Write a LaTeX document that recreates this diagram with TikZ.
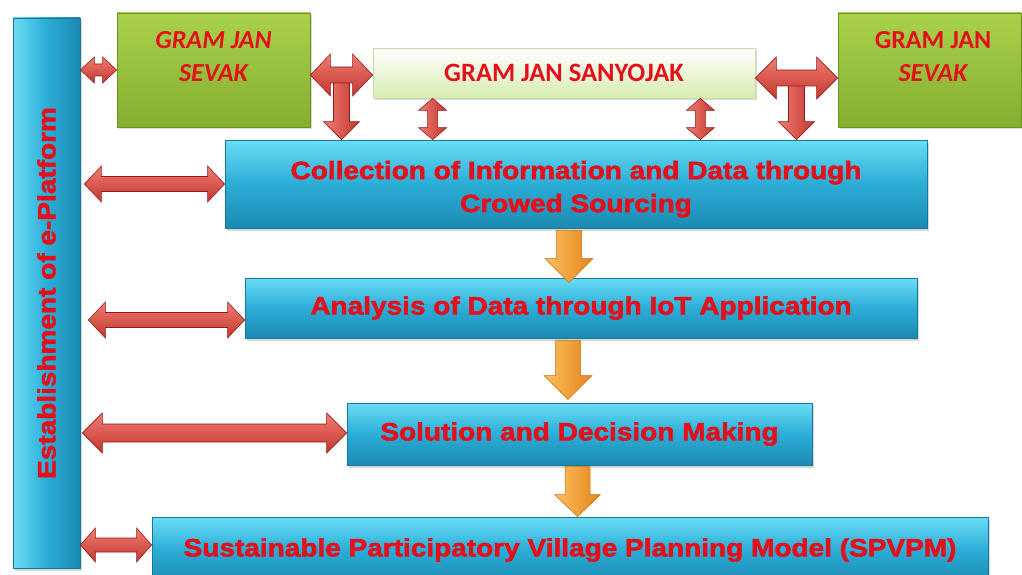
\documentclass[tikz,border=0pt]{standalone}
\usepackage{fontspec}
\setmainfont{Liberation Sans}
\newfontfamily\heavy{Liberation Sans Bold}[FakeBold=2.2,FakeStretch=1.12]
\newfontfamily\carl{Carlito}
\usetikzlibrary{calc,shadows}
\definecolor{tred}{HTML}{E3101C}
\definecolor{btop}{HTML}{6ADCF5}
\definecolor{bmid}{HTML}{2BADD6}
\definecolor{bbot}{HTML}{1C8AB3}
\definecolor{bbord}{HTML}{17789A}
\definecolor{gtop}{HTML}{A9D14B}
\definecolor{gbot}{HTML}{84AE2E}
\definecolor{gbord}{HTML}{6E9222}
\definecolor{stop}{HTML}{FFFFFF}
\definecolor{sbot}{HTML}{D7ECB2}
\definecolor{sbord}{HTML}{C9DDA6}
\definecolor{rtop}{HTML}{F07C72}
\definecolor{rbot}{HTML}{C2372E}
\definecolor{rbord}{HTML}{921C17}
\definecolor{otop}{HTML}{FBC060}
\definecolor{obot}{HTML}{E5841A}
\definecolor{obord}{HTML}{C46C10}
% horizontal double arrow: style, from, to, half shaft, half head, head length
\newcommand\hdarr[6]{\path[#1] let \p1=(#2), \p2=(#3) in
  (\x1,\y1) -- (\x1+#6,\y1+#5) -- (\x1+#6,\y1+#4) -- (\x2-#6,\y1+#4) -- (\x2-#6,\y1+#5) -- (\x2,\y1)
  -- (\x2-#6,\y1-#5) -- (\x2-#6,\y1-#4) -- (\x1+#6,\y1-#4) -- (\x1+#6,\y1-#5) -- cycle;}
% vertical double arrow: style, top, bottom, half shaft, half head, head length
\newcommand\vdarr[6]{\path[#1] let \p1=(#2), \p2=(#3) in
  (\x1,\y1) -- (\x1+#5,\y1-#6) -- (\x1+#4,\y1-#6) -- (\x1+#4,\y2+#6) -- (\x1+#5,\y2+#6) -- (\x1,\y2)
  -- (\x1-#5,\y2+#6) -- (\x1-#4,\y2+#6) -- (\x1-#4,\y1-#6) -- (\x1-#5,\y1-#6) -- cycle;}
% downward single arrow
\newcommand\downarr[6]{\path[#1] let \p1=(#2), \p2=(#3) in
  (\x1-#4,\y1) -- (\x1+#4,\y1) -- (\x1+#4,\y2+#6) -- (\x1+#5,\y2+#6) -- (\x1,\y2)
  -- (\x1-#5,\y2+#6) -- (\x1-#4,\y2+#6) -- cycle;}
\begin{document}
\begin{tikzpicture}[x=1pt,y=-1pt,
  shadowed/.style={drop shadow={opacity=0.3,shadow xshift=2pt,shadow yshift=-2.5pt}},
  bluebox/.style={rectangle,inner sep=0pt,draw=bbord,line width=0.8pt,shadowed,
    top color=btop,bottom color=bbot,middle color=bmid,text=tred,align=center,
    font=\heavy\fontsize{25}{33}\selectfont},
  barbox/.style={rectangle,inner sep=0pt,draw=bbord,line width=0.8pt,shadowed,
    left color=btop,right color=bbot,middle color=bmid,text=tred,
    font=\heavy\fontsize{25}{28}\selectfont},
  greenbox/.style={rectangle,inner sep=0pt,draw=gbord,line width=0.8pt,shadowed,
    top color=gtop,bottom color=gbot},
  sanybox/.style={rectangle,inner sep=0pt,draw=sbord,line width=0.8pt,shadowed,
    top color=stop,bottom color=sbot,text=tred,font=\carl\bfseries\fontsize{26.5}{28}\selectfont},
  gtext/.style={text=tred,align=center,font=\carl\bfseries\fontsize{26}{33}\selectfont},
  redarrow/.style={draw=rbord,line width=0.6pt,top color=rtop,bottom color=rbot},
  redvarrow/.style={draw=rbord,line width=0.6pt,left color=rtop,right color=rbot},
  orarrow/.style={draw=obord,line width=0.5pt,left color=otop,right color=obot},
]
\useasboundingbox (0,0) rectangle (1022,575);
\fill[white] (0,0) rectangle (1022,575);

% boxes
\node[barbox,minimum width=67pt,minimum height=550pt] (bar) at (46.5,293) {\rotatebox{90}{Establishment of e-Platform}};
\node[greenbox,minimum width=193pt,minimum height=114pt] (gjs1) at (213.5,70) {};
\node[gtext] (gjs1t) at (213.5,57) {\itshape GRAM JAN\\\itshape SEVAK};
\node[greenbox,minimum width=183pt,minimum height=114pt] (gjs2) at (929.5,70) {};
\node[gtext] (gjs2t) at (933,57) {GRAM JAN\\\itshape SEVAK};
\node[sanybox,minimum width=382pt,minimum height=50pt] (sany) at (564,73) {GRAM JAN SANYOJAK};
\node[bluebox,minimum width=702pt,minimum height=88pt] (coll) at (576,184) {\rule{0pt}{28.5pt}Collection of Information and Data through\\Crowed Sourcing};
\node[bluebox,minimum width=672pt,minimum height=60pt] (ana) at (581,308) {Analysis of Data through IoT Application};
\node[bluebox,minimum width=465pt,minimum height=62pt] (sol) at (579.5,434) {Solution and Decision Making};
\node[bluebox,minimum width=836pt,minimum height=66pt] (spv) at (570,550) {\raisebox{2pt}{Sustainable Participatory Village Planning Model (SPVPM)}};

% T arrows (stems first)
\downarr{redvarrow}{$(gjs1.east)!0.5!(sany.west)+(0,5)$}{coll.north}{8pt}{18pt}{18pt}
\downarr{redvarrow}{$(sany.east)!0.5!(gjs2.west)+(0,5)$}{coll.north}{8pt}{18pt}{18pt}
\hdarr{redarrow}{[yshift=-5pt]gjs1.east}{sany.west}{8pt}{21pt}{20pt}
\hdarr{redarrow}{[yshift=-5pt]sany.east}{gjs2.west}{8pt}{21pt}{21pt}

% small vertical arrows
\vdarr{redvarrow}{$(sany.south west)+(60,0)$}{coll.north}{5pt}{14pt}{12pt}
\vdarr{redvarrow}{$(sany.south east)+(-55,0)$}{coll.north}{5pt}{14pt}{12pt}

% left double arrows
\hdarr{redarrow}{bar.east |- gjs1.west}{gjs1.west}{6pt}{13pt}{14pt}
\hdarr{redarrow}{[xshift=4pt]bar.east |- coll.west}{coll.west}{7.5pt}{18pt}{17pt}
\hdarr{redarrow}{[xshift=8pt,yshift=-12pt]bar.east |- ana.west}{ana.west}{7.5pt}{18pt}{17pt}
\hdarr{redarrow}{[xshift=2pt,yshift=1pt]bar.east |- sol.west}{sol.west}{9pt}{20pt}{20pt}
\hdarr{redarrow}{[yshift=5pt]bar.east |- spv.west}{spv.west}{7pt}{17pt}{15pt}

% orange arrows
\downarr{orarrow}{$(coll.south)+(-7,2)$}{[yshift=-5pt]ana.north}{12.5pt}{24pt}{24pt}
\downarr{orarrow}{$(ana.south)+(-13,2)$}{[yshift=3pt]sol.north}{12.5pt}{24pt}{24pt}
\downarr{orarrow}{$(sol.south)+(-2,1)$}{spv.north}{12.5pt}{23pt}{22pt}
\end{tikzpicture}
\end{document}
